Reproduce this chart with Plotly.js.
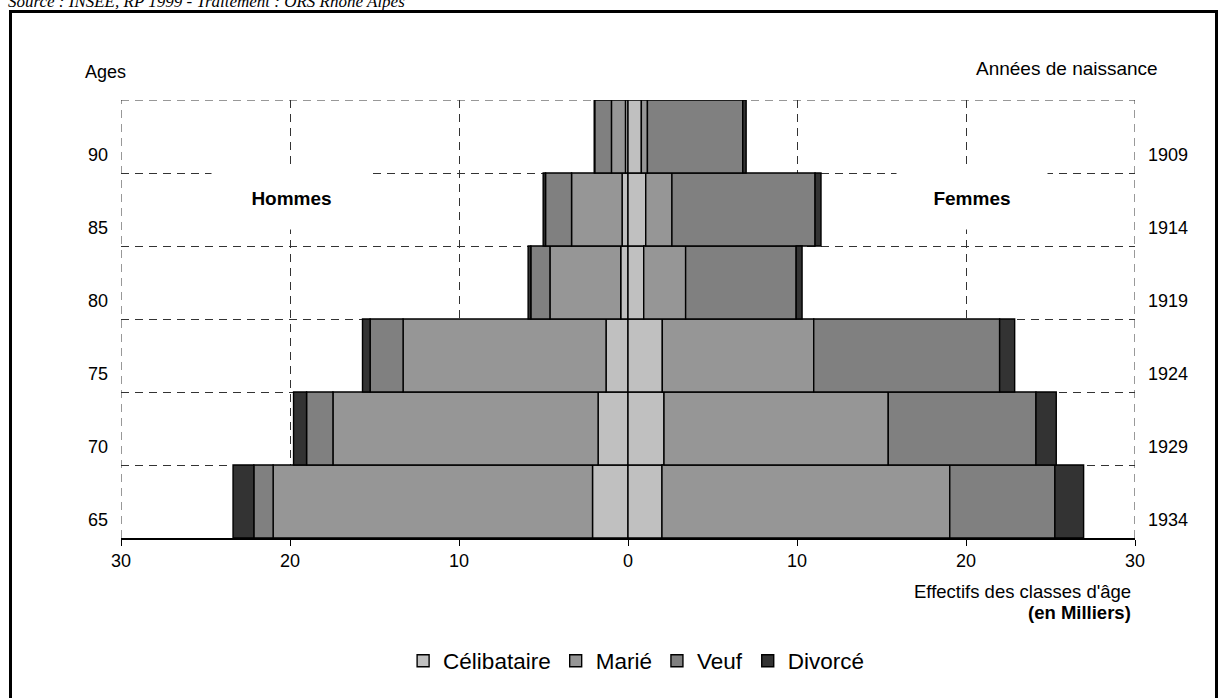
<!DOCTYPE html>
<html lang="fr">
<head>
<meta charset="utf-8">
<script src="https://cdn.plot.ly/plotly-3.0.1.min.js"></script>
<style>
  html, body { margin: 0; padding: 0; background: #fff; overflow: hidden; }
  #wrap { position: relative; width: 1220px; height: 698px; overflow: hidden; }
  #source {
    position: absolute; left: 8px; top: -7px; line-height: 17px;
    font-family: "Liberation Serif", "DejaVu Serif", serif; font-style: italic; font-size: 17px;
    color: #000; white-space: nowrap;
  }
  #frame {
    position: absolute; left: 9px; top: 10px; width: 1209px; height: 720px;
    border: 3px solid #000; box-sizing: border-box;
  }
  #chart { position: absolute; left: 0; top: 0; width: 1220px; height: 698px; }
</style>
</head>
<body>
<div id="wrap">
  <div id="source">Source : INSEE, RP 1999 - Traitement : ORS Rhône Alpes</div>
  <div id="frame"></div>
  <div id="chart"></div>
</div>
<script>
// Age groups (bottom to top) and matching birth years
const ages  = ['65', '70', '75', '80', '85', '90'];
const years = ['1934', '1929', '1924', '1919', '1914', '1909'];

// Marital status categories
const statuts = ['Célibataire', 'Marié', 'Veuf', 'Divorcé'];
const couleurs = ['#c0c0c0', '#969696', '#808080', '#333333'];

// Men, in thousands
const hommesCelibataire = [2.10, 1.77, 1.30, 0.43, 0.35, 0.15];
const hommesMarie       = [18.90, 15.69, 12.01, 4.19, 2.99, 0.83];
const hommesVeuf        = [1.14, 1.56, 1.95, 1.13, 1.54, 0.99];
const hommesDivorce     = [1.23, 0.77, 0.45, 0.16, 0.14, 0.03];

// Women, in thousands
const femmesCelibataire = [2.01, 2.13, 2.03, 0.93, 1.05, 0.79];
const femmesMarie       = [17.03, 13.27, 8.96, 2.48, 1.55, 0.36];
const femmesVeuf        = [6.22, 8.74, 11.00, 6.54, 8.47, 5.64];
const femmesDivorce     = [1.70, 1.20, 0.89, 0.35, 0.35, 0.20];

// Bottom axis ticks (absolute values on both sides)
const xTicks = [-30, -20, -10, 0, 10, 20, 30];
const xTickText = ['30', '20', '10', '0', '10', '20', '30'];

const hommes = [hommesCelibataire, hommesMarie, hommesVeuf, hommesDivorce];
const femmes = [femmesCelibataire, femmesMarie, femmesVeuf, femmesDivorce];

const FONT = 'Arial, "Liberation Sans", sans-serif';
const pos = ages.map((_, i) => i);           // bar centres on the linear y axis
const tickPos = ages.map((_, i) => i - 0.25); // labels sit in the lower part of each band
const bounds = ages.slice(1).map((_, i) => i + 0.5);

const traces = [];
statuts.forEach((s, k) => {
  traces.push({
    type: 'bar', orientation: 'h', name: s, legendgroup: s,
    x: hommes[k].map(v => -v), y: pos, yaxis: 'y',
    width: 1,
    marker: { color: couleurs[k], line: { color: '#000', width: 1.4 } },
    hoverinfo: 'skip'
  });
});
statuts.forEach((s, k) => {
  traces.push({
    type: 'bar', orientation: 'h', name: s, legendgroup: s, showlegend: false,
    x: femmes[k], y: pos, yaxis: 'y2',
    width: 1,
    marker: { color: couleurs[k], line: { color: '#000', width: 1.4 } },
    hoverinfo: 'skip'
  });
});

const DASH = '8px,6px';
const gridLine = { color: '#333', width: 1, dash: DASH };

const layout = {
  width: 1220, height: 698,
  margin: { l: 121, r: 85, t: 100, b: 160 },
  paper_bgcolor: 'rgba(0,0,0,0)',
  plot_bgcolor: 'rgba(0,0,0,0)',
  font: { family: FONT, size: 18, color: '#000' },
  barmode: 'relative', bargap: 0,
  showlegend: true,
  legend: {
    orientation: 'h', x: 0.508, xanchor: 'center', y: -0.281, yanchor: 'middle',
    font: { family: FONT, size: 22.5, color: '#000' },
    traceorder: 'normal', itemclick: false, itemdoubleclick: false
  },
  xaxis: {
    range: [-30, 30], fixedrange: true,
    tickmode: 'array', tickvals: xTicks, ticktext: xTickText,
    ticks: 'outside', ticklen: 6, tickwidth: 1, tickcolor: '#000',
    showline: true, linecolor: '#000', linewidth: 1.5,
    showgrid: true, gridcolor: '#333', gridwidth: 1, griddash: DASH,
    zeroline: false,
    tickfont: { family: FONT, size: 18, color: '#000' }
  },
  yaxis: {
    range: [-0.5, 5.5], fixedrange: true,
    tickmode: 'array', tickvals: tickPos, ticktext: ages,
    ticks: '', ticklabelstandoff: 12,
    showgrid: false, zeroline: false, showline: false,
    minor: { tickmode: 'array', tickvals: bounds, showgrid: true,
             gridcolor: '#333', gridwidth: 1, griddash: DASH, ticks: '' },
    tickfont: { family: FONT, size: 18, color: '#000' }
  },
  yaxis2: {
    range: [-0.5, 5.5], fixedrange: true, overlaying: 'y', side: 'right',
    tickmode: 'array', tickvals: tickPos, ticktext: years,
    ticks: '', ticklabelstandoff: 12,
    showgrid: false, zeroline: false, showline: false,
    tickfont: { family: FONT, size: 18, color: '#000' }
  },
  shapes: [
    // outer edges of the grid
    { type: 'line', xref: 'x', yref: 'paper', x0: -30, x1: -30, y0: 0, y1: 1, layer: 'below', line: gridLine },
    { type: 'line', xref: 'x', yref: 'paper', x0: 30, x1: 30, y0: 0, y1: 1, layer: 'below', line: gridLine },
    { type: 'line', xref: 'paper', yref: 'y', x0: 0, x1: 1, y0: 5.5, y1: 5.5, layer: 'below', line: gridLine }
  ],
  annotations: [
    { text: 'Ages', xref: 'paper', yref: 'paper', x: -0.0375, y: 1.064,
      xanchor: 'left', yanchor: 'middle', showarrow: false,
      font: { family: FONT, size: 18, color: '#000' } },
    { text: 'Années de naissance', xref: 'paper', yref: 'paper', x: 1.0247, y: 1.0708,
      xanchor: 'right', yanchor: 'middle', showarrow: false,
      font: { family: FONT, size: 19, color: '#000' } },
    { text: '<b>Hommes</b>', xref: 'paper', yref: 'paper', x: 0.1677, y: 0.776,
      xanchor: 'center', yanchor: 'middle', showarrow: false,
      width: 157, height: 60, bgcolor: '#fff',
      font: { family: FONT, size: 19, color: '#000' } },
    { text: '<b>Femmes</b>', xref: 'paper', yref: 'paper', x: 0.8393, y: 0.776,
      xanchor: 'center', yanchor: 'middle', showarrow: false,
      width: 148, height: 60, bgcolor: '#fff',
      font: { family: FONT, size: 19, color: '#000' } },
    { text: "Effectifs des classes d'âge", xref: 'paper', yref: 'paper', x: 0.998, y: -0.123,
      xanchor: 'right', yanchor: 'middle', showarrow: false,
      font: { family: FONT, size: 18.5, color: '#000' } },
    { text: '<b>(en Milliers)</b>', xref: 'paper', yref: 'paper', x: 0.998, y: -0.171,
      xanchor: 'right', yanchor: 'middle', showarrow: false,
      font: { family: FONT, size: 18.5, color: '#000' } }
  ]
};

Plotly.newPlot('chart', traces, layout, { displayModeBar: false, staticPlot: true });
</script>
</body>
</html>
